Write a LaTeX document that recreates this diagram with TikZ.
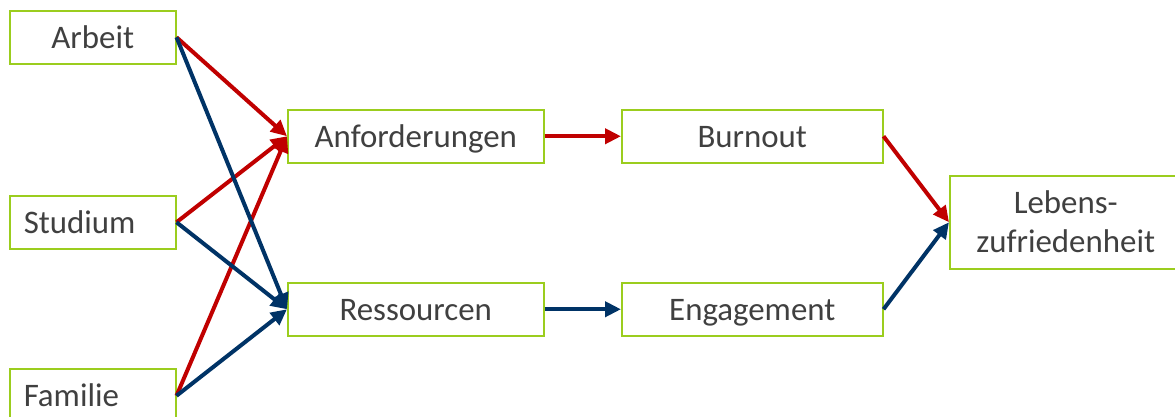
\documentclass[tikz,border=0pt]{standalone}
\usepackage{fontspec}
\setmainfont{Carlito}
\usetikzlibrary{arrows.meta}
\definecolor{boxgreen}{RGB}{155,205,30}
\definecolor{txtgray}{RGB}{64,64,64}
\definecolor{myred}{RGB}{192,0,0}
\definecolor{myblue}{RGB}{0,51,102}
\tikzset{
  box/.style={draw=boxgreen, line width=1.5bp, fill=white, inner sep=0pt, anchor=north west,
    text=txtgray, font=\fontsize{33}{38.5}\selectfont, align=center,
    text height=22bp, text depth=0.4bp},
  leftbox/.style={box, inner xsep=14bp, text width=138bp, align=left},
  redarr/.style={draw=myred, line width=4bp, -{Triangle[length=16bp,width=15bp]}},
  bluearr/.style={draw=myblue, line width=4bp, -{Triangle[length=16bp,width=15bp]}}
}
\begin{document}
\begin{tikzpicture}[x=1bp,y=-1bp]
\clip (0,0) rectangle (1175,416);
\useasboundingbox (0,0) rectangle (1175,416);
\node[box, minimum width=166bp, minimum height=53bp] (arbeit) at (9,10) {Arbeit};
\node[leftbox, minimum width=166bp, minimum height=53bp] (studium) at (9,195) {Studium};
\node[leftbox, minimum width=166bp, minimum height=54bp] (familie) at (9,368) {Familie};
\node[box, minimum width=256bp, minimum height=53bp] (anf) at (287,109) {Anforderungen};
\node[box, minimum width=256bp, minimum height=53bp] (res) at (287,282) {Ressourcen};
\node[box, minimum width=261bp, minimum height=53bp] (burn) at (621,109) {Burnout};
\node[box, minimum width=261bp, minimum height=53bp] (eng) at (621,282) {Engagement};
\node[box, minimum width=232bp, minimum height=93bp, text height=60.5bp, text depth=0.4bp] (leb) at (949,175) {Lebens-\\zufriedenheit};
\draw[redarr] (arbeit.east) -- (anf.west);
\draw[redarr] (studium.east) -- (anf.west);
\draw[redarr] (familie.east) -- (anf.west);
\draw[bluearr] (arbeit.east) -- (res.west);
\draw[bluearr] (studium.east) -- (res.west);
\draw[bluearr] (familie.east) -- (res.west);
\draw[redarr] (anf.east) -- (burn.west);
\draw[bluearr] (res.east) -- (eng.west);
\draw[redarr] (burn.east) -- (leb.west);
\draw[bluearr] (eng.east) -- (leb.west);
\end{tikzpicture}
\end{document}
